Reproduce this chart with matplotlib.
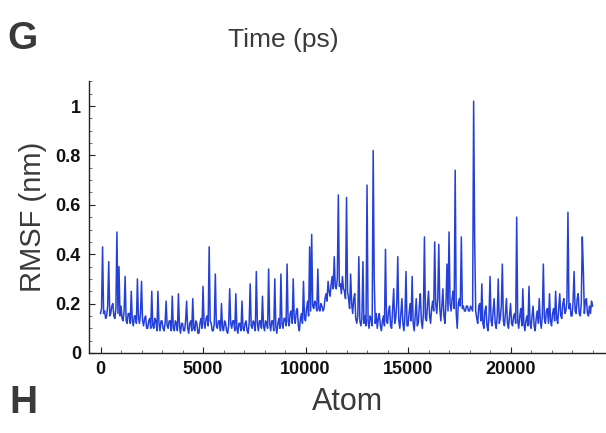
import numpy as np
import matplotlib
matplotlib.use("Agg")
import matplotlib.pyplot as plt
from matplotlib.ticker import MultipleLocator

atom_step = 50
rmsf = [
    0.16, 0.18, 0.43, 0.16, 0.17, 0.14, 0.15, 0.19, 0.37, 0.15, 0.16, 0.19, 0.20, 0.15, 0.14, 0.18, 0.49, 0.16, 0.35, 0.15,
    0.19, 0.14, 0.13, 0.17, 0.31, 0.13, 0.12, 0.16, 0.16, 0.12, 0.25, 0.13, 0.11, 0.15, 0.15, 0.12, 0.30, 0.14, 0.12, 0.16,
    0.29, 0.13, 0.11, 0.14, 0.15, 0.10, 0.10, 0.13, 0.14, 0.10, 0.25, 0.11, 0.10, 0.14, 0.13, 0.09, 0.25, 0.12, 0.09, 0.13,
    0.13, 0.10, 0.09, 0.12, 0.21, 0.11, 0.10, 0.13, 0.13, 0.09, 0.23, 0.10, 0.09, 0.13, 0.12, 0.09, 0.24, 0.11, 0.08, 0.12,
    0.12, 0.09, 0.09, 0.13, 0.21, 0.10, 0.08, 0.12, 0.13, 0.09, 0.22, 0.10, 0.09, 0.13, 0.12, 0.08, 0.08, 0.12, 0.14, 0.10,
    0.27, 0.12, 0.10, 0.14, 0.15, 0.11, 0.43, 0.13, 0.12, 0.09, 0.09, 0.12, 0.32, 0.11, 0.10, 0.13, 0.13, 0.09, 0.20, 0.10,
    0.09, 0.13, 0.12, 0.09, 0.08, 0.11, 0.26, 0.12, 0.10, 0.13, 0.13, 0.09, 0.24, 0.10, 0.08, 0.12, 0.12, 0.09, 0.21, 0.10,
    0.09, 0.12, 0.13, 0.09, 0.08, 0.12, 0.28, 0.11, 0.10, 0.13, 0.12, 0.09, 0.33, 0.12, 0.09, 0.13, 0.13, 0.10, 0.23, 0.11,
    0.09, 0.13, 0.12, 0.10, 0.34, 0.12, 0.09, 0.13, 0.13, 0.09, 0.30, 0.11, 0.08, 0.12, 0.14, 0.10, 0.32, 0.12, 0.10, 0.14,
    0.14, 0.11, 0.36, 0.13, 0.11, 0.16, 0.17, 0.12, 0.30, 0.14, 0.12, 0.17, 0.18, 0.11, 0.09, 0.14, 0.16, 0.12, 0.29, 0.14,
    0.13, 0.18, 0.21, 0.15, 0.43, 0.17, 0.48, 0.19, 0.18, 0.21, 0.20, 0.17, 0.34, 0.18, 0.17, 0.20, 0.19, 0.17, 0.18, 0.22,
    0.24, 0.21, 0.29, 0.25, 0.23, 0.28, 0.31, 0.26, 0.39, 0.27, 0.26, 0.30, 0.64, 0.27, 0.28, 0.24, 0.31, 0.26, 0.25, 0.22,
    0.63, 0.25, 0.22, 0.18, 0.32, 0.20, 0.16, 0.22, 0.24, 0.14, 0.12, 0.15, 0.39, 0.13, 0.11, 0.14, 0.37, 0.12, 0.15, 0.11,
    0.68, 0.13, 0.10, 0.15, 0.14, 0.11, 0.82, 0.30, 0.12, 0.16, 0.10, 0.14, 0.16, 0.11, 0.09, 0.13, 0.15, 0.11, 0.42, 0.13,
    0.12, 0.17, 0.19, 0.11, 0.10, 0.18, 0.26, 0.12, 0.14, 0.20, 0.39, 0.13, 0.10, 0.16, 0.22, 0.12, 0.09, 0.15, 0.33, 0.11,
    0.11, 0.16, 0.20, 0.13, 0.31, 0.12, 0.09, 0.15, 0.22, 0.11, 0.12, 0.19, 0.24, 0.13, 0.10, 0.16, 0.47, 0.14, 0.13, 0.20,
    0.25, 0.15, 0.12, 0.18, 0.21, 0.17, 0.45, 0.20, 0.16, 0.22, 0.44, 0.18, 0.13, 0.19, 0.26, 0.15, 0.12, 0.20, 0.36, 0.17,
    0.49, 0.20, 0.17, 0.22, 0.25, 0.18, 0.74, 0.16, 0.10, 0.20, 0.22, 0.19, 0.47, 0.18, 0.19, 0.17, 0.17, 0.19, 0.19, 0.17,
    0.17, 0.19, 0.18, 0.17, 1.02, 0.46, 0.17, 0.14, 0.12, 0.19, 0.20, 0.13, 0.28, 0.12, 0.10, 0.17, 0.19, 0.11, 0.09, 0.15,
    0.31, 0.13, 0.11, 0.17, 0.22, 0.12, 0.10, 0.15, 0.30, 0.12, 0.14, 0.19, 0.36, 0.13, 0.11, 0.16, 0.22, 0.12, 0.10, 0.15,
    0.20, 0.12, 0.11, 0.15, 0.16, 0.12, 0.55, 0.13, 0.10, 0.15, 0.18, 0.11, 0.26, 0.12, 0.09, 0.13, 0.15, 0.11, 0.27, 0.12,
    0.10, 0.15, 0.19, 0.11, 0.09, 0.14, 0.17, 0.12, 0.22, 0.13, 0.10, 0.15, 0.36, 0.14, 0.12, 0.17, 0.18, 0.12, 0.24, 0.13,
    0.11, 0.16, 0.18, 0.13, 0.25, 0.14, 0.12, 0.18, 0.24, 0.15, 0.14, 0.20, 0.22, 0.16, 0.17, 0.21, 0.57, 0.18, 0.20, 0.15,
    0.15, 0.21, 0.33, 0.17, 0.16, 0.22, 0.24, 0.16, 0.15, 0.20, 0.47, 0.34, 0.16, 0.21, 0.22, 0.16, 0.15, 0.19, 0.16, 0.21,
    0.19,
]
atoms = np.arange(len(rmsf)) * atom_step

x_ticks = [0, 5000, 10000, 15000, 20000]
y_ticks = [0, 0.2, 0.4, 0.6, 0.8, 1.0]
y_tick_labels = ["0", "0.2", "0.4", "0.6", "0.8", "1"]

tick_font = ["Liberation Sans Narrow", "Liberation Sans", "DejaVu Sans"]
label_font = ["Liberation Sans", "DejaVu Sans"]
grey = "#3a3a3a"

fig = plt.figure(figsize=(6.06, 4.33), dpi=100)
ax = fig.add_axes([0.1474, 0.1848, 0.8507, 0.629])

ax.plot(atoms, rmsf, color="#2440d8", lw=1.1)

ax.set_xlim(-546, 24600)
ax.set_ylim(0, 1.103)
ax.spines["top"].set_visible(False)
ax.spines["right"].set_visible(False)
for s in ("left", "bottom"):
    ax.spines[s].set_linewidth(1.0)
    ax.spines[s].set_color("#222222")

ax.set_xticks(x_ticks)
ax.set_xticklabels([str(t) for t in x_ticks])
ax.set_yticks(y_ticks)
ax.set_yticklabels(y_tick_labels)
ax.xaxis.set_minor_locator(MultipleLocator(1000))
ax.yaxis.set_minor_locator(MultipleLocator(0.05))
ax.tick_params(which="major", direction="in", length=4, width=0.8, color="#222222", pad=6)
ax.tick_params(which="minor", direction="in", length=2, width=0.6, color="#555555")
for lab in ax.get_xticklabels() + ax.get_yticklabels():
    lab.set_family(tick_font)
    lab.set_fontweight("bold")
    lab.set_fontsize(13)
    lab.set_color("#111111")

ax.set_ylabel("RMSF (nm)", family=label_font, fontsize=21, color=grey, labelpad=6)
ax.set_xlabel("Atom", family=label_font, fontsize=22, color=grey, labelpad=6)

# neighbouring panel pieces
fig.text(0.467, 0.907, "Time (ps)", family=label_font, fontsize=19, color=grey,
         ha="center", va="center")
fig.text(0.012, 0.91, "G", family=label_font, fontsize=28, fontweight="bold",
         color=grey, ha="left", va="center")
fig.text(0.015, 0.07, "H", family=label_font, fontsize=28, fontweight="bold",
         color=grey, ha="left", va="center")

fig.savefig("out.png", dpi=100)
